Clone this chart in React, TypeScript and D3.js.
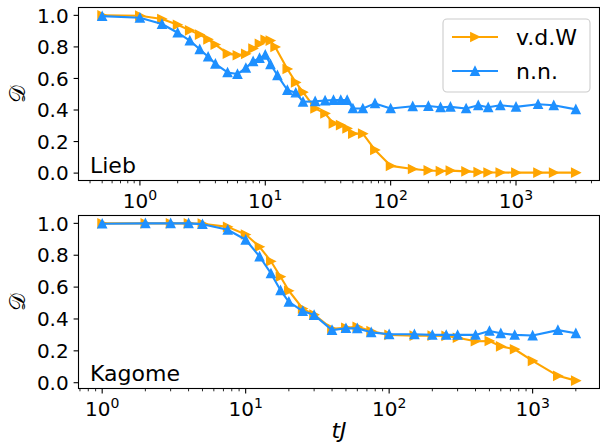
import React from "react";
import * as d3 from "d3";

// Lieb lattice
const liebTime = [0.5, 1, 1.5, 2, 2.5, 3, 3.5, 4, 5, 6, 7, 8, 9, 10, 11, 12, 15, 17.5, 20, 25, 30, 35, 40, 45, 50, 60, 75, 100, 150, 200, 250, 300, 400, 500, 600, 750, 1000, 1500, 2000, 3000];
const liebVdw = [1.0, 0.998, 0.977, 0.94, 0.905, 0.878, 0.848, 0.815, 0.757, 0.747, 0.756, 0.79, 0.82, 0.845, 0.84, 0.8, 0.66, 0.575, 0.513, 0.41, 0.378, 0.315, 0.304, 0.283, 0.25, 0.25, 0.147, 0.046, 0.026, 0.017, 0.013, 0.016, 0.011, 0.006, 0.004, 0.004, 0.003, 0.003, 0.003, 0.003];
const liebTimeNn = [0.5, 1, 1.5, 2, 2.5, 3, 3.5, 4, 5, 6, 7, 8, 9, 10, 11, 12.5, 15, 17.5, 20, 25, 30, 35, 40, 45, 50, 60, 75, 100, 150, 200, 250, 300, 400, 500, 600, 750, 1000, 1500, 2000, 3000];
const liebNn = [0.995, 0.985, 0.945, 0.89, 0.84, 0.785, 0.738, 0.693, 0.638, 0.628, 0.667, 0.709, 0.729, 0.75, 0.69, 0.62, 0.527, 0.51, 0.452, 0.455, 0.46, 0.463, 0.463, 0.463, 0.41, 0.41, 0.442, 0.41, 0.424, 0.425, 0.417, 0.42, 0.41, 0.43, 0.417, 0.43, 0.42, 0.437, 0.43, 0.404];

// Kagome lattice
const kagomeTime = [1, 2, 3, 4, 5, 7.5, 10, 12.5, 15, 17.5, 20, 25, 30, 40, 50, 60, 75, 100, 150, 200, 250, 300, 400, 500, 600, 750, 1000, 1500, 2000];
const kagomeVdw = [1.0, 1.0, 1.0, 1.0, 0.998, 0.978, 0.93, 0.853, 0.762, 0.665, 0.577, 0.465, 0.427, 0.338, 0.345, 0.351, 0.324, 0.3, 0.295, 0.295, 0.294, 0.282, 0.26, 0.262, 0.228, 0.21, 0.137, 0.043, 0.013];
const kagomeNn = [0.998, 1.0, 1.0, 1.0, 0.995, 0.96, 0.897, 0.792, 0.686, 0.58, 0.508, 0.45, 0.425, 0.33, 0.342, 0.341, 0.316, 0.304, 0.304, 0.3, 0.3, 0.3, 0.3, 0.325, 0.31, 0.3, 0.296, 0.33, 0.31];

const yTicks = [0, 0.2, 0.4, 0.6, 0.8, 1.0];
const seriesNames = ["v.d.W", "n.n."];
const ORANGE = "#ffa500";
const BLUE = "#1e90ff";

const LEFT = 78.5;
const RIGHT = 599.5;
const TICK_FONT = 20;
const TEXT_FONT = 22;
const FONT = "DejaVu Sans, sans-serif";

const R = 4.2;
const rightTri = `M${R},0L${-R},${-R}L${-R},${R}Z`;
const upTri = `M0,${-R}L${-R},${R}L${R},${R}Z`;

const padLog = (vals: number[]) => {
  const lo = Math.log10(d3.min(vals)!);
  const hi = Math.log10(d3.max(vals)!);
  const m = (hi - lo) * 0.05;
  return [Math.pow(10, lo - m), Math.pow(10, hi + m)];
};
const padLin = (vals: number[]) => {
  const lo = d3.min(vals)!;
  const hi = d3.max(vals)!;
  const m = (hi - lo) * 0.05;
  return [lo - m, hi + m];
};

type Series = { t: number[]; v: number[]; color: string; marker: string };

const Panel = ({ series, top, bottom, label, legend }: { series: Series[]; top: number; bottom: number; label: string; legend?: boolean }) => {
  const allT = series.flatMap((s) => s.t);
  const allV = series.flatMap((s) => s.v);
  const x = d3.scaleLog().domain(padLog(allT)).range([LEFT, RIGHT]);
  const y = d3.scaleLinear().domain(padLin(allV)).range([bottom, top]);
  const [d0, d1] = x.domain();
  const majors: number[] = [];
  const minors: number[] = [];
  for (let e = Math.floor(Math.log10(d0)); e <= Math.ceil(Math.log10(d1)); e++) {
    for (let k = 1; k < 10; k++) {
      const v = k * Math.pow(10, e);
      if (v < d0 || v > d1) continue;
      if (k === 1) majors.push(e);
      else minors.push(v);
    }
  }
  const line = d3.line<[number, number]>().x((d) => x(d[0])).y((d) => y(d[1]));
  const midY = (top + bottom) / 2;

  return (
    <g>
      {series.map((s, i) => {
        const pts = s.t.map((t, j) => [t, s.v[j]] as [number, number]);
        return (
          <g key={i}>
            <path d={line(pts)!} fill="none" stroke={s.color} strokeWidth={2.1} strokeLinejoin="round" />
            {pts.map((p, j) => (
              <path key={j} d={s.marker} transform={`translate(${x(p[0])},${y(p[1])})`} fill={s.color} stroke={s.color} strokeWidth={1.4} strokeLinejoin="miter" />
            ))}
          </g>
        );
      })}
      <rect x={LEFT} y={top} width={RIGHT - LEFT} height={bottom - top} fill="none" stroke="#000" strokeWidth={1.1} />
      {yTicks.map((t) => (
        <g key={t} transform={`translate(0,${y(t)})`}>
          <line x1={LEFT} x2={LEFT - 4.9} stroke="#000" strokeWidth={1.1} />
          <text x={LEFT - 9.8} dy="0.36em" textAnchor="end" fontSize={TICK_FONT} fontFamily={FONT}>
            {t.toFixed(1)}
          </text>
        </g>
      ))}
      {minors.map((v) => (
        <line key={v} x1={x(v)} x2={x(v)} y1={bottom} y2={bottom + 2.8} stroke="#000" strokeWidth={0.85} />
      ))}
      {majors.map((e) => (
        <g key={e} transform={`translate(${x(Math.pow(10, e))},${bottom})`}>
          <line y1={0} y2={4.9} stroke="#000" strokeWidth={1.1} />
          <text y={27} textAnchor="middle" fontSize={TICK_FONT} fontFamily={FONT}>
            10<tspan dy={-8} fontSize={TICK_FONT * 0.7}>{e}</tspan>
          </text>
        </g>
      ))}
      <text transform={`translate(25,${midY}) rotate(-90)`} textAnchor="middle" fontSize={TEXT_FONT} fontFamily="DejaVu Serif, serif">
        𝒟
      </text>
      <text x={LEFT + 11.5} y={bottom - 8} fontSize={TEXT_FONT} fontFamily={FONT}>
        {label}
      </text>
      {legend && (
        <g>
          <rect x={443} y={19} width={147} height={73} rx={4} fill="#fff" fillOpacity={0.8} stroke="#cccccc" strokeWidth={1.1} />
          {series.map((s, i) => {
            const ly = 37 + i * 34;
            return (
              <g key={i}>
                <line x1={452} x2={498} y1={ly} y2={ly} stroke={s.color} strokeWidth={2.1} />
                <path d={s.marker} transform={`translate(475,${ly})`} fill={s.color} stroke={s.color} strokeWidth={1.4} />
                <text x={516} y={ly + 8} fontSize={TEXT_FONT} fontFamily={FONT}>
                  {seriesNames[i]}
                </text>
              </g>
            );
          })}
        </g>
      )}
    </g>
  );
};

export default function App() {
  return (
    <svg width={600} height={443} style={{ display: "block", position: "absolute", left: 0, top: 0, background: "#fff" }}>
      <Panel
        top={7.5}
        bottom={180.5}
        label="Lieb"
        legend
        series={[
          { t: liebTime, v: liebVdw, color: ORANGE, marker: rightTri },
          { t: liebTimeNn, v: liebNn, color: BLUE, marker: upTri },
        ]}
      />
      <Panel
        top={215.5}
        bottom={388.5}
        label="Kagome"
        series={[
          { t: kagomeTime, v: kagomeVdw, color: ORANGE, marker: rightTri },
          { t: kagomeTime, v: kagomeNn, color: BLUE, marker: upTri },
        ]}
      />
      <text x={(LEFT + RIGHT) / 2} y={438} textAnchor="middle" fontSize={TEXT_FONT} fontFamily={FONT} fontStyle="italic">
        tJ
      </text>
    </svg>
  );
}
